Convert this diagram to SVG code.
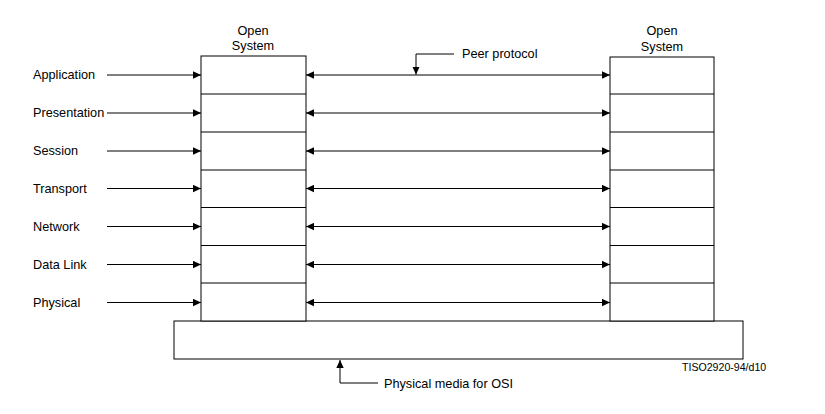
<svg xmlns="http://www.w3.org/2000/svg" width="825" height="414" viewBox="0 0 825 414">
<style>
text{font-family:"Liberation Sans",Arial,sans-serif;font-size:12.7px;fill:#000}
.c{text-anchor:middle}
.s{font-size:10.6px}
.box{fill:#fff;stroke:#000;stroke-width:1}
.ln{stroke:#000;stroke-width:1;fill:none}
</style>
<defs>
<marker id="ah" viewBox="0 0 8 8" refX="8" refY="4" markerWidth="8" markerHeight="8" markerUnits="userSpaceOnUse" orient="auto-start-reverse">
<path d="M0,0.3 L8,4 L0,7.7 Z" fill="#000"/>
</marker>
</defs>
<rect width="825" height="414" fill="#fff"/>
<g id="media">
<rect class="box" x="174" y="321" width="569" height="38"/>
</g>
<g id="system-left">
<rect class="box" x="201" y="56" width="105" height="265"/>
<path class="ln" d="M201,94H306M201,132H306M201,170H306M201,207.5H306M201,245.5H306M201,283H306"/>
<text class="c" x="253" y="35">Open</text>
<text class="c" x="253" y="50">System</text>
</g>
<g id="system-right">
<rect class="box" x="610" y="57" width="104" height="264"/>
<path class="ln" d="M610,94H714M610,132H714M610,170H714M610,207.5H714M610,245.5H714M610,283H714"/>
<text class="c" x="662" y="35">Open</text>
<text class="c" x="662" y="50.5">System</text>
</g>
<g id="labels">
<text x="33" y="79">Application</text>
<text x="33" y="117">Presentation</text>
<text x="33" y="155">Session</text>
<text x="33" y="193">Transport</text>
<text x="33" y="231">Network</text>
<text x="33" y="269">Data Link</text>
<text x="33" y="307">Physical</text>
<text x="462" y="58">Peer protocol</text>
<text x="384" y="388">Physical media for OSI</text>
<text class="s" x="682" y="371">TISO2920-94/d10</text>
</g>
<g id="connectors">
<path class="ln" marker-end="url(#ah)" d="M107,75H201"/>
<path class="ln" marker-end="url(#ah)" d="M107,113H201"/>
<path class="ln" marker-end="url(#ah)" d="M107,151H201"/>
<path class="ln" marker-end="url(#ah)" d="M107,188.5H201"/>
<path class="ln" marker-end="url(#ah)" d="M107,226.5H201"/>
<path class="ln" marker-end="url(#ah)" d="M107,264.5H201"/>
<path class="ln" marker-end="url(#ah)" d="M107,302.5H201"/>
<path class="ln" marker-start="url(#ah)" marker-end="url(#ah)" d="M306,75H610"/>
<path class="ln" marker-start="url(#ah)" marker-end="url(#ah)" d="M306,113H610"/>
<path class="ln" marker-start="url(#ah)" marker-end="url(#ah)" d="M306,151H610"/>
<path class="ln" marker-start="url(#ah)" marker-end="url(#ah)" d="M306,188.5H610"/>
<path class="ln" marker-start="url(#ah)" marker-end="url(#ah)" d="M306,226.5H610"/>
<path class="ln" marker-start="url(#ah)" marker-end="url(#ah)" d="M306,264.5H610"/>
<path class="ln" marker-start="url(#ah)" marker-end="url(#ah)" d="M306,302.5H610"/>
<path class="ln" marker-end="url(#ah)" d="M454,54H416V74.5"/>
<path class="ln" marker-end="url(#ah)" d="M378,383H340V360"/>
</g>
</svg>
